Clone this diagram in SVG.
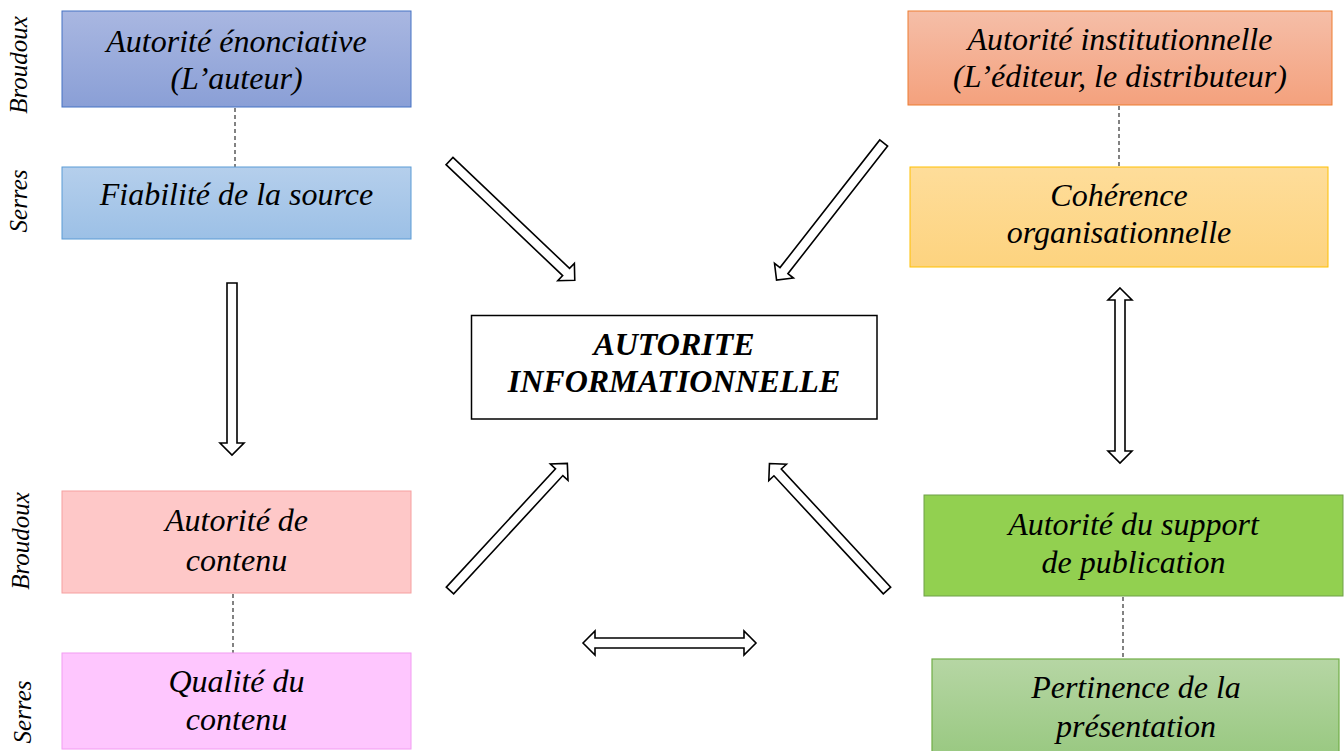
<svg xmlns="http://www.w3.org/2000/svg" width="1344" height="751" viewBox="0 0 1344 751">
<style>
.t{font-family:"Liberation Serif","Times New Roman",serif;font-style:italic;font-size:32px;fill:#000;text-anchor:middle}
.c{font-weight:bold}
.s{font-family:"Liberation Serif","Times New Roman",serif;font-style:italic;font-size:25px;fill:#000;text-anchor:middle}
.dash{stroke:#404040;stroke-width:1.3;stroke-dasharray:4 3;fill:none}
.arr{fill:#fff;stroke:#000;stroke-width:1.6;stroke-linejoin:miter}
</style>
<defs>
<linearGradient id="g1" x1="0" y1="0" x2="0" y2="1"><stop offset="0" stop-color="#a9b7e1"/><stop offset="1" stop-color="#8a9fd6"/></linearGradient>
<linearGradient id="g2" x1="0" y1="0" x2="0" y2="1"><stop offset="0" stop-color="#b5cfec"/><stop offset="1" stop-color="#9cc0e6"/></linearGradient>
<linearGradient id="g3" x1="0" y1="0" x2="0" y2="1"><stop offset="0" stop-color="#f5bea8"/><stop offset="1" stop-color="#f4a17d"/></linearGradient>
<linearGradient id="g4" x1="0" y1="0" x2="0" y2="1"><stop offset="0" stop-color="#fedd9a"/><stop offset="1" stop-color="#fdd37f"/></linearGradient>
<linearGradient id="g8" x1="0" y1="0" x2="0" y2="1"><stop offset="0" stop-color="#b6d6a4"/><stop offset="1" stop-color="#98c880"/></linearGradient>
</defs>
<rect width="1344" height="751" fill="#fff"/>

<g id="label-broudoux-top"><text class="s" transform="translate(27,65) rotate(-90)">Broudoux</text></g>
<g id="label-serres-top"><text class="s" transform="translate(27,201) rotate(-90)">Serres</text></g>
<g id="label-broudoux-bottom"><text class="s" transform="translate(29,541) rotate(-90)">Broudoux</text></g>
<g id="label-serres-bottom"><text class="s" transform="translate(31,712) rotate(-90)">Serres</text></g>

<g id="connectors">
<line class="dash" x1="235" y1="108" x2="235" y2="167"/>
<line class="dash" x1="1119" y1="106" x2="1119" y2="167"/>
<line class="dash" x1="233" y1="594" x2="233" y2="653"/>
<line class="dash" x1="1123" y1="597" x2="1123" y2="659"/>
<path class="arr" transform="translate(449.5,161) rotate(43.6)" d="M0,-5 H161 V-12 L173,0 L161,12 V5 H0 Z"/>
<path class="arr" transform="translate(883.7,143) rotate(128)" d="M0,-5 H162 V-12 L174,0 L162,12 V5 H0 Z"/>
<path class="arr" transform="translate(450,590.5) rotate(-47.3)" d="M0,-5 H161 V-12 L173,0 L161,12 V5 H0 Z"/>
<path class="arr" transform="translate(887,590.5) rotate(-132.8)" d="M0,-5 H161 V-12 L173,0 L161,12 V5 H0 Z"/>
<path class="arr" transform="translate(232,283) rotate(90)" d="M0,-5 H160 V-12 L172,0 L160,12 V5 H0 Z"/>
<path class="arr" transform="translate(1120,288) rotate(90)" d="M0,0 L12,-12 V-5 H163 V-12 L175,0 L163,12 V5 H12 V12 Z"/>
<path class="arr" transform="translate(583,643)" d="M0,0 L12,-12 V-5 H161 V-12 L173,0 L161,12 V5 H12 V12 Z"/>
</g>

<g id="node-enonciative">
<rect x="62" y="11" width="349" height="96" fill="url(#g1)" stroke="#4472c4" stroke-width="1"/>
<text class="t" x="236.5" y="52">Autorité énonciative</text>
<text class="t" x="236.5" y="89">(L’auteur)</text>
</g>
<g id="node-fiabilite">
<rect x="62" y="167" width="349" height="72" fill="url(#g2)" stroke="#5b9bd5" stroke-width="1"/>
<text class="t" x="236.5" y="205">Fiabilité de la source</text>
</g>
<g id="node-institutionnelle">
<rect x="908" y="11" width="424" height="94" fill="url(#g3)" stroke="#ed7d31" stroke-width="1"/>
<text class="t" x="1120" y="50">Autorité institutionnelle</text>
<text class="t" x="1120" y="87">(L’éditeur, le distributeur)</text>
</g>
<g id="node-coherence">
<rect x="910" y="167" width="418" height="100" fill="url(#g4)" stroke="#ffc000" stroke-width="1"/>
<text class="t" x="1119" y="206">Cohérence</text>
<text class="t" x="1119" y="243">organisationnelle</text>
</g>
<g id="node-center">
<rect x="471.5" y="315.5" width="405.5" height="103.5" fill="#fff" stroke="#000" stroke-width="1.5"/>
<text class="t c" x="674" y="355">AUTORITE</text>
<text class="t c" x="674" y="392">INFORMATIONNELLE</text>
</g>
<g id="node-contenu">
<rect x="62" y="491" width="349" height="102" fill="#fec8c8" stroke="#f6a0a0" stroke-width="1"/>
<text class="t" x="236.5" y="531">Autorité de</text>
<text class="t" x="236.5" y="571">contenu</text>
</g>
<g id="node-qualite">
<rect x="62" y="653" width="349" height="96" fill="#fec6fe" stroke="#f29cf2" stroke-width="1"/>
<text class="t" x="236.5" y="692">Qualité du</text>
<text class="t" x="236.5" y="730">contenu</text>
</g>
<g id="node-support">
<rect x="924" y="495" width="419" height="101" fill="#92d050" stroke="#6fa048" stroke-width="1"/>
<text class="t" x="1133.5" y="535">Autorité du support</text>
<text class="t" x="1133.5" y="573">de publication</text>
</g>
<g id="node-pertinence">
<rect x="932" y="659" width="407" height="100" fill="url(#g8)" stroke="#70ad47" stroke-width="1.2"/>
<text class="t" x="1136" y="698">Pertinence de la</text>
<text class="t" x="1136" y="737">présentation</text>
</g>
</svg>
